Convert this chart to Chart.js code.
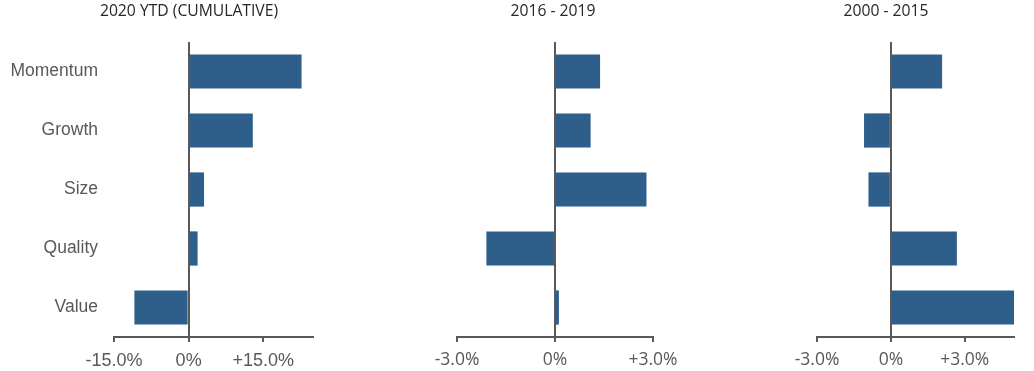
<!DOCTYPE html>
<html>
<head>
<meta charset="utf-8">
<script src="https://cdn.jsdelivr.net/npm/chart.js@4/dist/chart.umd.min.js"></script>
<style>
  html, body { margin: 0; padding: 0; background: #ffffff; }
  body { width: 1034px; height: 371px; position: relative; overflow: hidden; }
  .panel { position: absolute; top: 0; height: 371px; }
</style>
</head>
<body>
<div class="panel" id="w1" style="left:0px;width:378px;"><canvas id="c1"></canvas></div>
<div class="panel" id="w2" style="left:380px;width:346px;"><canvas id="c2"></canvas></div>
<div class="panel" id="w3" style="left:738px;width:296px;"><canvas id="c3"></canvas></div>
<script>
// ---- Data ----
const categories = ['Momentum', 'Growth', 'Size', 'Quality', 'Value'];
const titles = ['2020 YTD (CUMULATIVE)', '2016 - 2019', '2000 - 2015'];
const ytd2020 = [22.7, 12.9, 3.1, 1.8, -10.9];
const y2016to2019 = [1.38, 1.09, 2.8, -2.1, 0.12];
const y2000to2015 = [2.08, -1.09, -0.91, 2.68, 5.0];
const ticks1 = [-15, 0, 15];
const tickLabels1 = ['-15.0%', '0%', '+15.0%'];
const ticks2 = [-3, 0, 3];
const tickLabels2 = ['-3.0%', '0%', '+3.0%'];
const ticks3 = [-3, 0, 3];
const tickLabels3 = ['-3.0%', '0%', '+3.0%'];
const ranges = [[-15, 25], [-3, 3], [-3, 5]];

const BAR = '#2d5f8a';
const AXIS = '#595959';

const zeroAndTitle = {
  id: 'zeroAndTitle',
  afterDatasetsDraw(chart, args, opts) {
    const ctx = chart.ctx;
    const x = chart.scales.x.getPixelForValue(0);
    const a = chart.chartArea;
    ctx.save();
    ctx.strokeStyle = AXIS;
    ctx.lineWidth = 2;
    ctx.beginPath();
    ctx.moveTo(Math.round(x), a.top);
    ctx.lineTo(Math.round(x), a.bottom);
    ctx.stroke();
    ctx.fillStyle = '#262626';
    ctx.font = '15.7px "Open Sans"';
    ctx.textAlign = 'center';
    ctx.textBaseline = 'middle';
    ctx.fillText(opts.text, chart.width / 2, 12);
    ctx.restore();
  }
};

function makeChart(id, values, title, range, tickVals, tickLabels, pad, showY, tickFont) {
  return new Chart(document.getElementById(id), {
    type: 'bar',
    data: {
      labels: categories,
      datasets: [{
        data: values,
        backgroundColor: BAR,
        borderWidth: 0,
        barPercentage: 0.58,
        categoryPercentage: 1.0
      }]
    },
    options: {
      indexAxis: 'y',
      responsive: true,
      maintainAspectRatio: false,
      animation: false,
      layout: { padding: { top: 42, bottom: 0, left: pad[0], right: pad[1] } },
      plugins: {
        legend: { display: false },
        tooltip: { enabled: false },
        title: { display: false },
        zeroAndTitle: { text: title }
      },
      scales: {
        x: {
          type: 'linear',
          min: range[0],
          max: range[1],
          afterBuildTicks(scale) {
            scale.ticks = tickVals.map(v => ({ value: v }));
          },
          afterFit(scale) { scale.height = 34; },
          border: { display: true, color: AXIS, width: 2 },
          grid: { display: true, drawOnChartArea: false, drawTicks: true, tickLength: 5, color: AXIS, lineWidth: 2 },
          ticks: {
            color: '#595959',
            font: tickFont,
            padding: 8,
            maxRotation: 0,
            autoSkip: false,
            callback(value) {
              const i = tickVals.indexOf(value);
              return i >= 0 ? tickLabels[i] : '';
            }
          }
        },
        y: {
          type: 'category',
          display: showY,
          afterFit(scale) { if (showY) scale.width = 114; },
          border: { display: false },
          grid: { display: false },
          ticks: {
            color: '#595959',
            font: { family: '"Liberation Sans", Arial, sans-serif', size: 17.5 },
            padding: 8
          }
        }
      }
    },
    plugins: [zeroAndTitle]
  });
}

makeChart('c1', ytd2020, titles[0], ranges[0], ticks1, tickLabels1, [0, 65], true,
  { family: '"Liberation Sans", Arial, sans-serif', size: 18 });
makeChart('c2', y2016to2019, titles[1], ranges[1], ticks2, tickLabels2, [77, 73], false,
  { family: '"Open Sans", sans-serif', size: 17.5 });
makeChart('c3', y2000to2015, titles[2], ranges[2], ticks3, tickLabels3, [79, 20], false,
  { family: '"Open Sans", sans-serif', size: 17.5 });
</script>
</body>
</html>
